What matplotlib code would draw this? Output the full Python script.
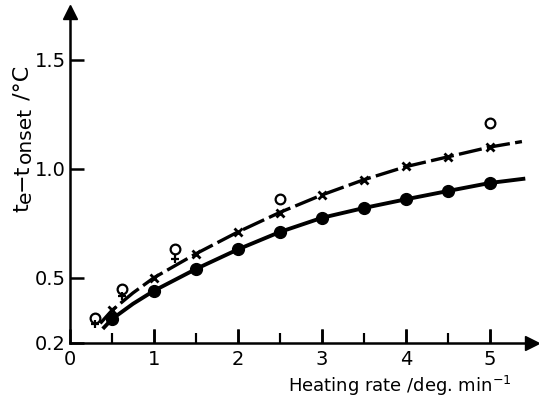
import numpy as np
import matplotlib.pyplot as plt

# Filled circles (solid curve)
rate_filled = [0.5, 1.0, 1.5, 2.0, 2.5, 3.0, 3.5, 4.0, 4.5, 5.0]
dt_filled = [0.31, 0.44, 0.54, 0.633, 0.711, 0.775, 0.821, 0.862, 0.899, 0.936]

# Crosses (dashed curve)
rate_cross = [0.5, 1.0, 1.5, 2.0, 2.5, 3.0, 3.5, 4.0, 4.5, 5.0]
dt_cross = [0.35, 0.50, 0.61, 0.711, 0.798, 0.88, 0.95, 1.014, 1.055, 1.10]

# Open circles and the small plus signs under them
rate_open = [0.3, 0.62, 1.25, 2.5, 5.0]
dt_open = [0.316, 0.45, 0.633, 0.86, 1.21]
rate_plus = [0.3, 0.62, 1.25]
dt_plus = [0.285, 0.415, 0.585]

# Curves
curve_solid_x = [0.39, 0.5, 0.75, 1.0, 1.5, 2.0, 2.5, 3.0, 3.5, 4.0, 4.5, 5.0, 5.42]
curve_solid_y = [0.265, 0.31, 0.38, 0.44, 0.54, 0.63, 0.71, 0.775, 0.82, 0.86, 0.898, 0.935, 0.955]
curve_dash_x = [0.36, 0.5, 0.75, 1.0, 1.5, 2.0, 2.5, 3.0, 3.5, 4.0, 4.5, 5.0, 5.38]
curve_dash_y = [0.29, 0.35, 0.43, 0.50, 0.61, 0.71, 0.80, 0.88, 0.95, 1.01, 1.055, 1.10, 1.125]

x_ticks = [0, 1, 2, 3, 4, 5]
x_minor = [0.5, 1.5, 2.5, 3.5, 4.5]
y_ticks = [0.2, 0.5, 1.0, 1.5]
y_tick_labels = ['0.2', '0.5', '1.0', '1.5']

plt.rcParams.update({
    'font.family': ['DejaVu Sans'],
    'mathtext.default': 'regular',
    'xtick.direction': 'in', 'ytick.direction': 'in',
    'xtick.major.size': 10, 'ytick.major.size': 10,
    'xtick.minor.size': 7,
    'xtick.major.width': 1.8, 'ytick.major.width': 1.8,
    'xtick.minor.width': 1.5,
    'xtick.major.pad': 5, 'ytick.major.pad': 3,
    'xtick.labelsize': 14, 'ytick.labelsize': 14,
})

W, H = 539, 399
fig = plt.figure(figsize=(W / 100, H / 100), dpi=100)
ax = fig.add_axes([70 / W, 56 / H, 462 / W, 331 / H])
ax.set_xlim(0, 5.5)
ax.set_ylim(0.2, 1.72)

ax.plot(curve_solid_x, curve_solid_y, color='black', lw=2.8, solid_capstyle='butt')
ax.plot(curve_dash_x, curve_dash_y, color='black', lw=2.4, dashes=(7, 1.6))

ax.plot(rate_filled, dt_filled, 'o', color='black', ms=8.5)
ax.plot(rate_cross, dt_cross, 'x', color='black', ms=5.5, mew=2)
ax.plot(rate_open, dt_open, 'o', mfc='none', mec='black', ms=7, mew=1.6)
ax.plot(rate_plus, dt_plus, '+', color='black', ms=6, mew=1.6)

for s in ['top', 'right']:
    ax.spines[s].set_visible(False)
for s in ['left', 'bottom']:
    ax.spines[s].set_linewidth(1.8)

# arrow heads at the ends of the axes
ax.plot([0], [1.72], marker='^', color='black', ms=10, clip_on=False)
ax.plot([5.5], [0.2], marker='>', color='black', ms=10, clip_on=False)

ax.set_xticks(x_ticks)
ax.set_xticks(x_minor, minor=True)
ax.set_yticks(y_ticks)
ax.set_yticklabels(y_tick_labels)

# the x tick marks did not show up, so draw them on the axis line as short lines
xtr = ax.get_xaxis_transform()
ax.vlines(x_ticks[1:], 0, 14 / 331, transform=xtr, colors='black', lw=1.8,
          clip_on=False, zorder=3)
ax.vlines(x_minor, 0, 10 / 331, transform=xtr, colors='black', lw=1.5,
          clip_on=False, zorder=3)

ax.set_xlabel('Heating rate /deg. min$^{-1}$', fontsize=13)
ax.xaxis.set_label_coords(512 / W, 1 / H, transform=fig.transFigure)
ax.xaxis.label.set_ha('right')
ax.xaxis.label.set_va('bottom')

# y label with near full-size subscripts, built piece by piece upward
pieces = [('t', 0), ('e', 1), ('\u2212t', 0), ('onset', 1), (' /°C', 0)]
renderer = fig.canvas.get_renderer()
ypos = 187.0
for txt, sub in pieces:
    size = 14.5 if sub else 16
    xb = 31.0 if sub else 28.0
    t = fig.text(xb / W, ypos / H, txt, rotation=90, rotation_mode='anchor',
                 ha='left', va='baseline', fontsize=size)
    bb = t.get_window_extent(renderer)
    ypos += bb.height

fig.savefig('out.png', dpi=100)
